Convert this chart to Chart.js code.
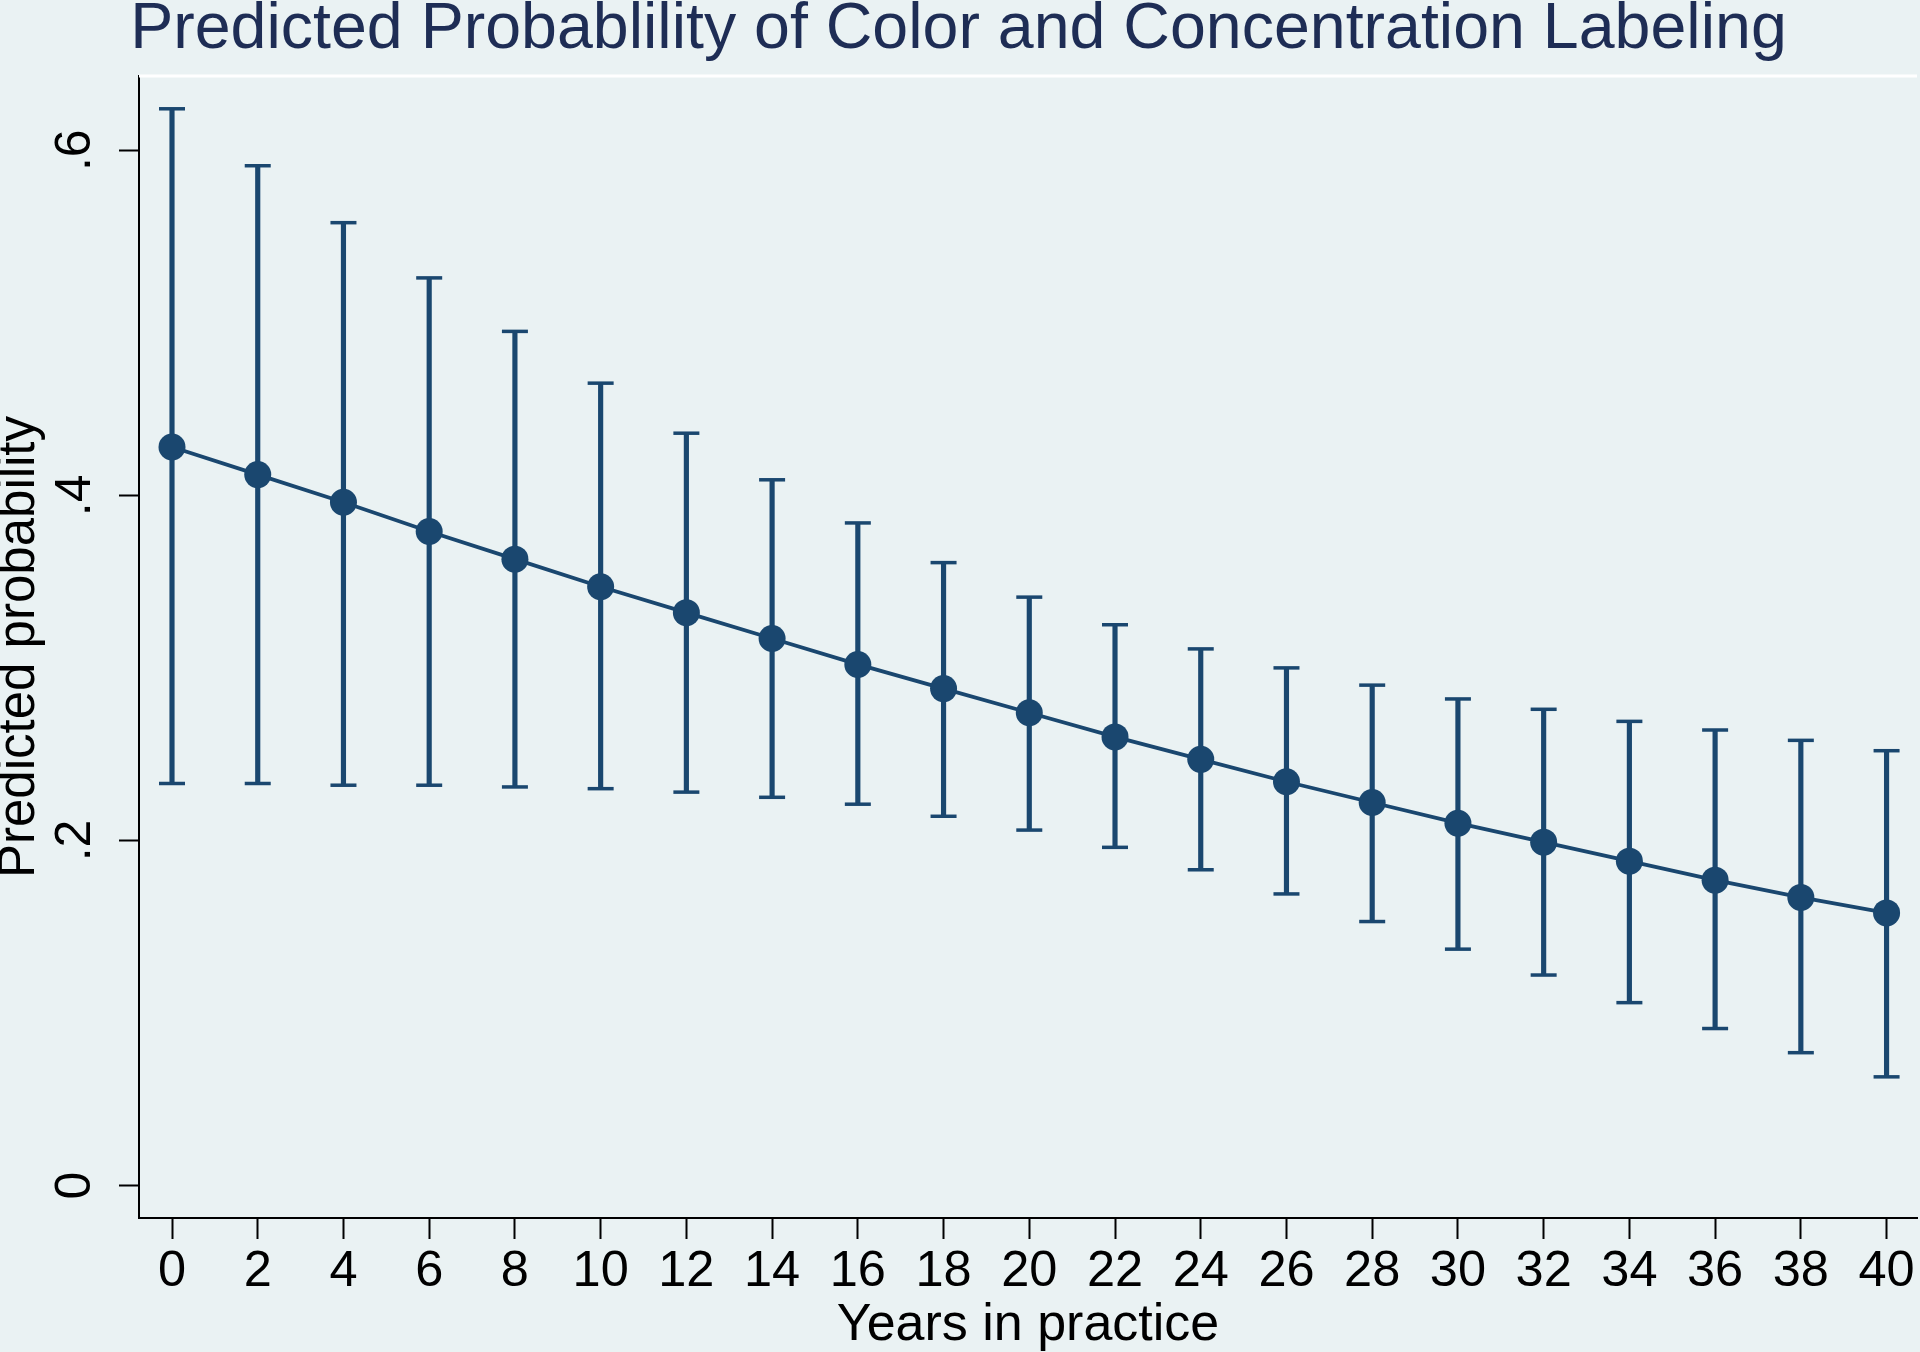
<!DOCTYPE html>
<html>
<head>
<meta charset="utf-8">
<title>Predicted Probablility of Color and Concentration Labeling</title>
<script src="https://cdn.jsdelivr.net/npm/chart.js@4.4.1/dist/chart.umd.min.js"></script>
<style>
  html, body { margin: 0; padding: 0; background: #eaf2f3; }
  canvas { display: block; }
</style>
</head>
<body>
<canvas id="myChart" width="1920" height="1352"></canvas>
<script>
// values
const years = [0, 2, 4, 6, 8, 10, 12, 14, 16, 18, 20, 22, 24, 26, 28, 30, 32, 34, 36, 38, 40];
const predicted = [0.428, 0.412, 0.396, 0.379, 0.363, 0.347, 0.332, 0.317, 0.302, 0.288, 0.274, 0.260, 0.247, 0.234, 0.222, 0.210, 0.199, 0.188, 0.177, 0.167, 0.158];
const upper = [0.624, 0.591, 0.558, 0.526, 0.495, 0.465, 0.436, 0.409, 0.384, 0.361, 0.341, 0.325, 0.311, 0.300, 0.290, 0.282, 0.276, 0.269, 0.264, 0.258, 0.252];
const lower = [0.233, 0.233, 0.232, 0.232, 0.231, 0.230, 0.228, 0.225, 0.221, 0.214, 0.206, 0.196, 0.183, 0.169, 0.153, 0.137, 0.122, 0.106, 0.091, 0.077, 0.063];
const yTicks = [0, 0.2, 0.4, 0.6];
const yTickLabels = ['0', '.2', '.4', '.6'];

const navy = '#1a476f';
const fontFam = '"Liberation Sans", Arial, sans-serif';

// white line on top of the plot region, like stata draws it
const topEdge = {
  id: 'topEdge',
  beforeDatasetsDraw(chart) {
    const a = chart.chartArea;
    const c = chart.ctx;
    c.save();
    c.strokeStyle = '#ffffff';
    c.lineWidth = 3;
    c.beginPath();
    c.moveTo(a.left, a.top);
    c.lineTo(a.right, a.top);
    c.stroke();
    c.restore();
  }
};

const ctx = document.getElementById('myChart');
const chart = new Chart(ctx, {
  type: 'line',
  data: {
    datasets: [
      {
        type: 'line',
        data: years.map((x, i) => ({x: x, y: predicted[i]})),
        borderColor: navy,
        borderWidth: 3.8,
        backgroundColor: navy,
        pointRadius: 13.5,
        pointBorderWidth: 0,
        tension: 0,
        order: 0
      },
      {
        type: 'scatter',
        data: years.map((x, i) => ({x: x, y: upper[i]})).concat(years.map((x, i) => ({x: x, y: lower[i]}))),
        pointStyle: 'line',
        pointRadius: 13,
        borderColor: navy,
        borderWidth: 3.5,
        order: 1
      },
      {
        type: 'bar',
        data: years.map((x, i) => ({x: x, y: [lower[i], upper[i]]})),
        backgroundColor: navy,
        borderWidth: 0,
        barThickness: 4.5,
        grouped: false,
        order: 2
      }
    ]
  },
  options: {
    responsive: false,
    animation: false,
    devicePixelRatio: 1,
    layout: { autoPadding: false, padding: { left: 0, right: 3, top: 0, bottom: 0 } },
    plugins: {
      legend: { display: false },
      tooltip: { enabled: false },
      title: {
        display: true,
        text: 'Predicted Probablility of Color and Concentration Labeling',
        color: '#1e2d55',
        font: { family: fontFam, size: 64.5, weight: 'normal', lineHeight: 0.8 },
        padding: { top: 4, bottom: 20.4 }
      }
    },
    scales: {
      x: {
        type: 'linear',
        min: -0.77,
        max: 40.71,
        offset: false,
        afterBuildTicks: (scale) => { scale.ticks = years.map(v => ({value: v})); },
        afterFit: (scale) => {
          scale.height = 134;
          scale.paddingLeft = 0;
          scale.paddingRight = 0;
        },
        grid: { display: true, offset: false, drawOnChartArea: false, drawTicks: true, tickLength: 21, tickColor: '#000', tickWidth: 2 },
        border: { display: true, color: '#000', width: 2 },
        ticks: { color: '#000', padding: 3, maxRotation: 0, autoSkip: false, font: { family: fontFam, size: 50.5 } },
        title: {
          display: true,
          text: 'Years in practice',
          color: '#000',
          font: { family: fontFam, size: 52, lineHeight: 1.0 },
          padding: { top: 0, bottom: 0.5 }
        }
      },
      y: {
        type: 'linear',
        min: -0.0188,
        max: 0.643,
        afterBuildTicks: (scale) => { scale.ticks = yTicks.map(v => ({value: v})); },
        afterFit: (scale) => { scale.width = 139; },
        grid: { display: true, drawOnChartArea: false, drawTicks: true, tickLength: 20, tickColor: '#000', tickWidth: 2 },
        border: { display: true, color: '#000', width: 2 },
        ticks: {
          color: '#000',
          padding: 22,
          minRotation: 90,
          maxRotation: 90,
          crossAlign: 'center',
          font: { family: fontFam, size: 50 },
          callback: (v) => yTickLabels[yTicks.indexOf(v)]
        },
        title: {
          display: true,
          text: 'Predicted probability',
          color: '#000',
          font: { family: fontFam, size: 51, lineHeight: 0.78 },
          padding: { top: 0, bottom: 0 }
        }
      }
    }
  },
  plugins: [topEdge]
});
</script>
</body>
</html>
